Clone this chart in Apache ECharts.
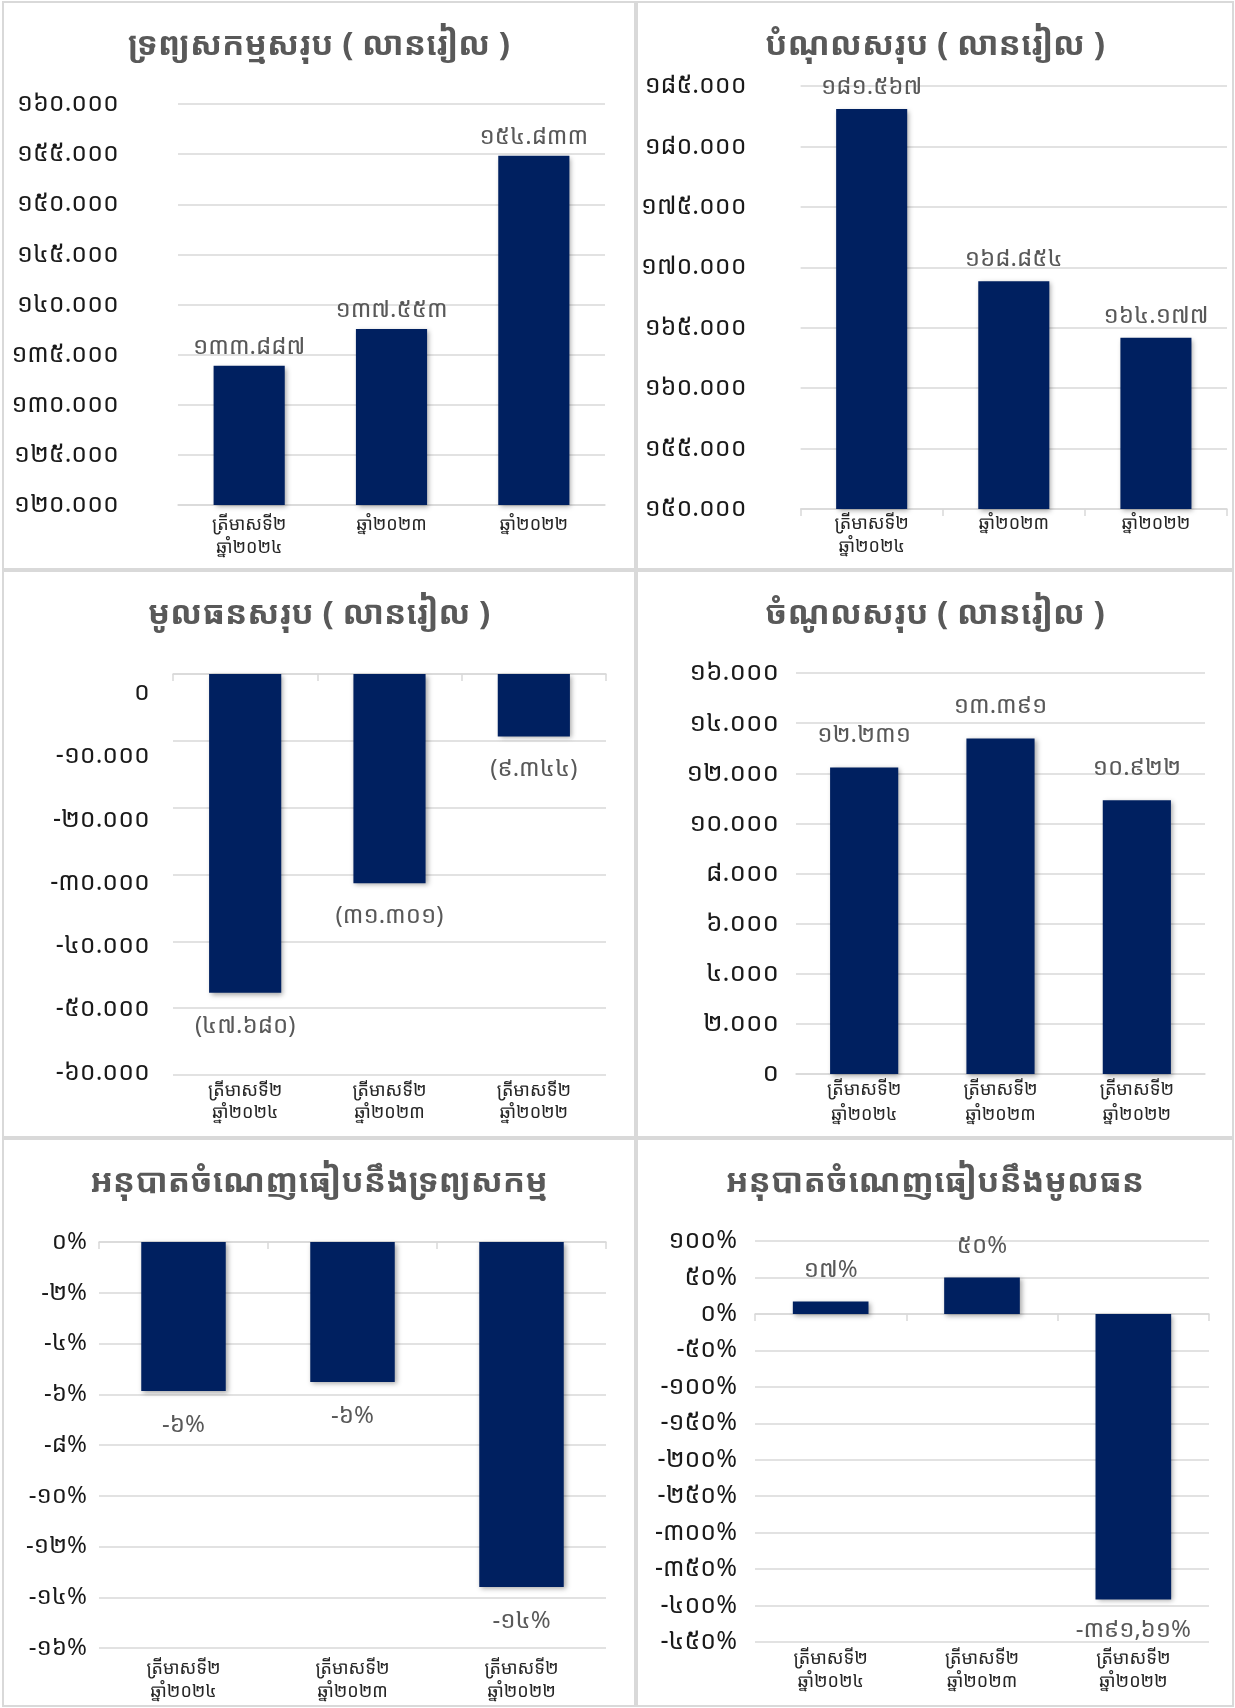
<!DOCTYPE html>
<html>
<head>
<meta charset="utf-8">
<title>Financial charts</title>
<script src="https://cdn.jsdelivr.net/npm/echarts@6.0.0/dist/echarts.min.js"></script>
<style>
html,body{margin:0;padding:0;background:#fff;}
#page{position:relative;width:1235px;height:1708px;}
.panel{position:absolute;box-sizing:border-box;border:2px solid #d9d9d9;}
</style>
</head>
<body>
<div id="page">
  <div class="panel" id="c1" style="left:2px;top:1px;width:634px;height:569px"></div>
  <div class="panel" id="c2" style="left:636px;top:1px;width:598px;height:569px"></div>
  <div class="panel" id="c3" style="left:2px;top:570px;width:634px;height:568px"></div>
  <div class="panel" id="c4" style="left:636px;top:570px;width:598px;height:568px"></div>
  <div class="panel" id="c5" style="left:2px;top:1138px;width:634px;height:569px"></div>
  <div class="panel" id="c6" style="left:636px;top:1138px;width:598px;height:569px"></div>
</div>
<script>
// categories
const catsYears = ['ត្រីមាសទី២\nឆ្នាំ២០២៤', 'ឆ្នាំ២០២៣', 'ឆ្នាំ២០២២'];
const catsQuarters = ['ត្រីមាសទី២\nឆ្នាំ២០២៤', 'ត្រីមាសទី២\nឆ្នាំ២០២៣', 'ត្រីមាសទី២\nឆ្នាំ២០២២'];

// values (million riel / percent)
const totalAssets = [133887, 137553, 154833];
// first liabilities bar is drawn taller in the source than its label says
const totalLiabilities = [183100, 168854, 164177];
const totalLiabilitiesLabels = [181567, 168854, 164177];
const totalEquity = [-47680, -31301, -9344];
const totalRevenue = [12231, 13391, 10922];
const returnOnAssets = [-5.87, -5.52, -13.6];
const returnOnEquity = [17, 50, -391.61];

// titles
const titles = [
  'ទ្រព្យសកម្មសរុប ( លានរៀល )',
  'បំណុលសរុប ( លានរៀល )',
  'មូលធនសរុប ( លានរៀល )',
  'ចំណូលសរុប ( លានរៀល )',
  'អនុបាតចំណេញធៀបនឹងទ្រព្យសកម្ម',
  'អនុបាតចំណេញធៀបនឹងមូលធន'
];

// y axis ranges [min, max, step]
const assetsAxis = [120000, 160000, 5000];
const liabAxis = [150000, 185000, 5000];
const equityAxis = [-60000, 0, 10000];
const equityTicks = [0, -10000, -20000, -30000, -40000, -50000, -60000];
const revenueAxis = [0, 16000, 2000];
const roaAxis = [-16, 0, 2];
const roeAxis = [-450, 100, 50];

const FONT = '"Khmer OS Battambang","Noto Sans Khmer","Noto Serif Khmer","Khmer OS System","Khmer OS",sans-serif';
const khDigits = '០១២៣៤៥៦៧៨៩';
function kh(s){ return String(s).replace(/[0-9]/g, d => khDigits[d]); }
function thousands(v){
  let s = Math.abs(Math.round(v)).toString().replace(/\B(?=(\d{3})+(?!\d))/g, '.');
  return kh((v < 0 ? '-' : '') + s);
}
function paren(v){ return v < 0 ? '(' + thousands(-v) + ')' : thousands(v); }
function pctInt(v){ return kh(Number(v).toFixed(0)) + '%'; }
function pctMixed(v){
  let s = Number.isInteger(v) ? String(v) : v.toFixed(2).replace('.', ',');
  return kh(s) + '%';
}

const grey = '#d9d9d9';

function makeOption(c){
  const axisLineStyle = {color: grey, width: 1.5};
  let xAxes = [{
    type: 'category', data: c.cats, position: 'bottom',
    axisLine: {show: !c.zeroAxis, onZero: false, lineStyle: axisLineStyle},
    axisTick: {show: !!c.ticks, length: 7, lineStyle: axisLineStyle},
    axisLabel: {color: '#262626', fontSize: 18, lineHeight: c.catLH || 23, margin: c.catMargin, fontFamily: FONT, interval: 0}
  }];
  if (c.zeroAxis) {
    xAxes.push({
      type: 'category', data: c.cats, position: 'bottom',
      axisLine: {show: true, onZero: true, onZeroAxisIndex: 0, lineStyle: axisLineStyle},
      axisTick: {show: true, length: 7, lineStyle: axisLineStyle},
      axisLabel: {show: false}
    });
  }
  let yAxes = [{
    type: 'value', min: c.y[0], max: c.y[1], interval: c.y[2],
    axisLine: {show: false}, axisTick: {show: false},
    splitLine: {lineStyle: {color: grey, width: 1.5}},
    axisLabel: {show: !c.labelAxis, color: '#1a1a1a', fontSize: c.yFont, margin: c.yMargin, fontFamily: FONT, formatter: c.axisFmt}
  }];
  if (c.labelAxis) {
    // Excel placed these labels a little off the gridlines; second axis only for the labels
    yAxes.push({
      type: 'value', position: 'left', min: c.labelAxis.min, max: c.labelAxis.max,
      axisLine: {show: false}, axisTick: {show: false}, splitLine: {show: false},
      axisLabel: {color: '#1a1a1a', fontSize: c.yFont, margin: c.yMargin, fontFamily: FONT, formatter: c.axisFmt,
        customValues: c.labelAxis.values}
    });
  }
  let labelVals = c.labels || c.vals;
  return {
    animation: false,
    textStyle: {fontFamily: FONT},
    title: {
      text: c.title, left: 'center', top: 21,
      textStyle: {color: '#595959', fontSize: 33, fontWeight: 'bold', fontFamily: FONT}
    },
    grid: c.grid,
    xAxis: xAxes,
    yAxis: yAxes,
    series: [{
      type: 'bar', barWidth: '50%', xAxisIndex: 0, yAxisIndex: 0,
      data: c.vals.map(v => ({value: v, label: {position: v < 0 ? 'bottom' : 'top'}})),
      itemStyle: {color: '#002060', shadowColor: 'rgba(0,0,0,0.35)', shadowBlur: 5, shadowOffsetX: 2, shadowOffsetY: 2},
      label: {show: true, distance: c.labelDist, color: '#595959', fontSize: 24, fontFamily: FONT,
        formatter: p => c.labelFmt(labelVals[p.dataIndex])}
    }]
  };
}

const panels = [
  {id: 'c1', title: titles[0], cats: catsYears, vals: totalAssets, y: assetsAxis,
   grid: {left: 174, right: 29, top: 101, bottom: 63}, yMargin: 59, yFont: 25, catMargin: 8, labelDist: 7,
   axisFmt: thousands, labelFmt: thousands},
  {id: 'c2', title: titles[1], cats: catsYears, vals: totalLiabilities, labels: totalLiabilitiesLabels, y: liabAxis, ticks: true,
   grid: {left: 160, right: 5, top: 83, bottom: 59}, yMargin: 54, yFont: 25, catMargin: 3, labelDist: 10,
   axisFmt: thousands, labelFmt: thousands},
  {id: 'c3', title: titles[2], cats: catsQuarters, vals: totalEquity, y: equityAxis, zeroAxis: true,
   labelAxis: {max: 3004, min: -60395, values: equityTicks},
   grid: {left: 169, right: 28, top: 102, bottom: 61}, yMargin: 23, yFont: 25, catMargin: 5, catLH: 22, labelDist: 21,
   axisFmt: thousands, labelFmt: paren},
  {id: 'c4', title: titles[3], cats: catsQuarters, vals: totalRevenue, y: revenueAxis,
   grid: {left: 158, right: 27, top: 101, bottom: 62}, yMargin: 17, yFont: 26, catMargin: 3, catLH: 25, labelDist: 20,
   axisFmt: thousands, labelFmt: thousands},
  {id: 'c5', title: titles[4], cats: catsQuarters, vals: returnOnAssets, y: roaAxis, zeroAxis: true,
   grid: {left: 95, right: 28, top: 102, bottom: 57}, yMargin: 12, yFont: 24, catMargin: 9, labelDist: 22,
   axisFmt: v => kh(v) + '%', labelFmt: pctInt},
  {id: 'c6', title: titles[5], cats: catsQuarters, vals: returnOnEquity, y: roeAxis, zeroAxis: true,
   grid: {left: 117, right: 23, top: 101, bottom: 63}, yMargin: 18, yFont: 25, catMargin: 5, labelDist: 19,
   axisFmt: v => kh(v) + '%', labelFmt: pctMixed}
];

panels.forEach(c => {
  let chart = echarts.init(document.getElementById(c.id));
  chart.setOption(makeOption(c));
});
</script>
</body>
</html>
